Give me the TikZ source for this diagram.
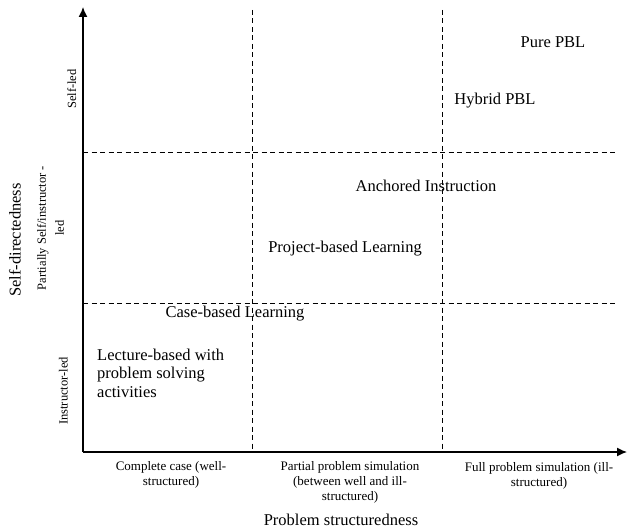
\documentclass[tikz,border=0pt]{standalone}
\usepackage{fontspec}
\setmainfont{Liberation Serif}
\usetikzlibrary{arrows.meta}
\tikzset{
  axisline/.style={line width=1.3bp, -{Latex[length=10bp,width=9bp]}},
  gridline/.style={line width=0.9bp, dash pattern=on 5bp off 3.5bp},
  mainlbl/.style={inner sep=0pt, font=\fontsize{16.5bp}{18.5bp}\selectfont},
  smalllbl/.style={inner sep=0pt, align=center, font=\fontsize{13bp}{15bp}\selectfont},
  sidelbl/.style={inner sep=0pt, align=center, rotate=90, font=\fontsize{12.5bp}{18bp}\selectfont},
}
\begin{document}
\begin{tikzpicture}[x=1bp,y=-1bp]
\useasboundingbox (0,0) rectangle (627,531);
% axes
\coordinate (O) at (83,452);
\coordinate (ytop) at (83,7);
\coordinate (xend) at (627,452);
\draw[axisline] (O) -- (ytop);
\draw[axisline] (O) -- (xend);
% grid
\coordinate (v1t) at (252,10);
\coordinate (v1b) at (252,452);
\coordinate (v2t) at (442,10);
\coordinate (v2b) at (442,452);
\coordinate (h1l) at (83,152);
\coordinate (h1r) at (617,152);
\coordinate (h2l) at (83,303);
\coordinate (h2r) at (617,303);
\draw[gridline] (v1t) -- (v1b);
\draw[gridline] (v2t) -- (v2b);
\draw[gridline] (h1l) -- (h1r);
\draw[gridline] (h2l) -- (h2r);
% approaches
\node[mainlbl, anchor=base] (pure) at (553,47.5) {Pure PBL};
\node[mainlbl, anchor=base] (hybrid) at (495,105) {Hybrid PBL};
\node[mainlbl, anchor=base] (anchored) at (426,192) {Anchored Instruction};
\node[mainlbl, anchor=base] (project) at (345,252) {Project-based Learning};
\node[mainlbl, anchor=base] (case) at (235,317) {Case-based Learning};
\node[mainlbl, anchor=west, align=left] (lecture) at (97,373) {Lecture-based with\\problem solving\\activities};
% x categories
\node[smalllbl, anchor=north] (xc1) at (171,461) {Complete case (well-\\structured)};
\node[smalllbl, anchor=north] (xc2) at (350,461) {Partial problem simulation\\(between well and ill-\\structured)};
\node[smalllbl, anchor=north] (xc3) at (539,462) {Full problem simulation (ill-\\structured)};
\node[mainlbl, anchor=base] (xtitle) at (341,525.5) {Problem structuredness};
% y categories
\node[sidelbl, anchor=base] (yc3) at (76,89) {Self-led};
\node[sidelbl] (yc2) at (50.5,228) {Partially Self/instructor -\\led};
\node[sidelbl, anchor=base] (yc1) at (67.5,391) {Instructor-led};
\node[mainlbl, anchor=base, rotate=90] (ytitle) at (20.5,240) {Self-directedness};
\end{tikzpicture}
\end{document}
